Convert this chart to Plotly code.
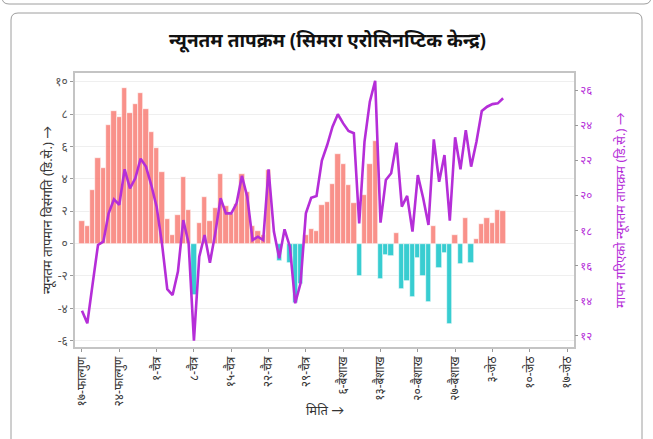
import plotly.graph_objects as go

# ---- data ----
day = list(range(80))  # days after 17-Falgun
anomaly = [1.40, 1.11, 3.29, 5.31, 4.69, 7.30, 8.21, 7.80, 9.61, 8.09,
           8.60, 9.32, 8.29, 6.91, 5.91, 4.40, 1.50, 0.51, 1.79, 4.12,
           2.10, -3.19, 1.30, 2.90, 1.40, 2.22, 4.30, 2.30, 1.85, 2.47,
           4.30, 3.19, 1.11, 0.80, 0.53, 4.57, 0.00, -1.07, 0.00, -1.19,
           -3.70, -2.47, 0.51, 0.90, 0.80, 2.41, 2.59, 3.70, 5.51, 4.90,
           3.60, 2.51, -2.00, 3.00, 4.90, 6.32, -2.20, -0.68, -0.78, 0.68,
           -2.78, -2.30, -3.29, -0.90, -2.00, -3.58, 1.11, -1.48, -0.58, -4.98,
           0.51, -1.28, 1.60, -1.17, 0.29, 1.19, 1.60, 1.30, 2.10, 2.00]
tmin = [13.44, 12.72, 14.96, 17.18, 17.37, 18.98, 19.78, 19.47, 21.49, 20.40,
        20.97, 22.09, 21.64, 20.59, 19.36, 17.28, 14.66, 14.33, 15.66, 18.60,
        17.28, 11.73, 16.51, 17.75, 16.17, 17.84, 19.84, 18.98, 18.98, 19.55,
        21.11, 19.93, 17.46, 17.65, 17.46, 21.49, 17.94, 16.42, 18.07, 17.08,
        13.86, 15.00, 18.98, 19.87, 19.97, 21.98, 22.87, 23.91, 24.62, 24.10,
        23.67, 23.54, 18.41, 23.06, 25.34, 26.53, 18.45, 20.88, 21.26, 23.00,
        19.36, 19.97, 17.94, 21.16, 19.85, 18.32, 23.19, 20.78, 22.30, 18.56,
        23.31, 21.49, 23.72, 21.64, 23.06, 24.81, 25.05, 25.20, 25.24, 25.53]

x_tick_vals = [0, 7, 14, 21, 28, 35, 42, 49, 56, 63, 70, 77, 84, 91]
x_tick_text = ["१७-फाल्गुण", "२४-फाल्गुण", "१-चैत्र", "८-चैत्र", "१५-चैत्र", "२२-चैत्र",
               "२९-चैत्र", "६-बैशाख", "१३-बैशाख", "२०-बैशाख", "२७-बैशाख", "३-जेठ",
               "१०-जेठ", "१७-जेठ"]
y_tick_vals = [-6, -4, -2, 0, 2, 4, 6, 8, 10]
y_tick_text = ["-६", "-४", "-२", "०", "२", "४", "६", "८", "१०"]
y2_tick_vals = [12, 14, 16, 18, 20, 22, 24, 26]
y2_tick_text = ["१२", "१४", "१६", "१८", "२०", "२२", "२४", "२६"]

title_text = "न्यूनतम तापक्रम (सिमरा एरोसिनप्टिक केन्द्र)"
ylab = "न्यूनतम तापमान विसंगति (डि.से.) →"
y2lab = "मापन गरिएको न्यूनतम तापक्रम (डि.से.) →"
xlab = "मिति →"

# ---- layout geometry ----
W, H = 653, 439
L, R, T, B = 75, 574, 73, 347
PURPLE = "#B52ED8"
FONT = "Noto Sans, Lato, sans-serif"

def px(x):
    return (x - L) / (R - L)

def py(y):
    return (B - y) / (B - T)

bar_colors = ["rgba(248,118,109,0.8)" if v >= 0 else "rgba(0,191,196,0.78)" for v in anomaly]

fig = go.Figure()
fig.add_trace(go.Bar(x=day, y=anomaly, marker=dict(color=bar_colors,
                     line=dict(color="white", width=0.6)),
                     width=1.0, hoverinfo="skip", showlegend=False))
fig.add_trace(go.Scatter(x=day, y=tmin, yaxis="y2", mode="lines",
                         line=dict(color=PURPLE, width=2.6), showlegend=False))

def card_path(xl, xr, ytop, ybot, r, top=True):
    if top:
        return (f"M {px(xl)},{py(ybot)} L {px(xl)},{py(ytop + r)} "
                f"Q {px(xl)},{py(ytop)} {px(xl + r)},{py(ytop)} "
                f"L {px(xr - r)},{py(ytop)} Q {px(xr)},{py(ytop)} {px(xr)},{py(ytop + r)} "
                f"L {px(xr)},{py(ybot)}")
    else:
        return (f"M {px(xl)},{py(ytop)} L {px(xl)},{py(ybot - r)} "
                f"Q {px(xl)},{py(ybot)} {px(xl + r)},{py(ybot)} "
                f"L {px(xr - r)},{py(ybot)} Q {px(xr)},{py(ybot)} {px(xr)},{py(ybot - r)} "
                f"L {px(xr)},{py(ytop)}")

shapes = [
    dict(type="path", xref="paper", yref="paper",
         path=card_path(11, 642, 13, 460, 7, top=True),
         line=dict(color="#9E9E9E", width=1)),
    dict(type="path", xref="paper", yref="paper",
         path=card_path(2, 651, -20, 4, 7, top=False),
         line=dict(color="#9E9E9E", width=1)),
]

annotations = [
    dict(text="<b>" + title_text + "</b>", x=px(327), y=py(40), xref="paper", yref="paper",
         showarrow=False, font=dict(size=19, color="#111111", family=FONT),
         xanchor="center", yanchor="middle"),
    dict(text=ylab, x=px(47), y=py(210), xref="paper", yref="paper",
         showarrow=False, textangle=-90, font=dict(size=13, color="#333333", family=FONT),
         xanchor="center", yanchor="middle"),
    dict(text=y2lab, x=px(620), y=py(210), xref="paper", yref="paper",
         showarrow=False, textangle=-90, font=dict(size=13, color=PURPLE, family=FONT),
         xanchor="center", yanchor="middle"),
    dict(text=xlab, x=px(325), y=py(410), xref="paper", yref="paper",
         showarrow=False, font=dict(size=13, color="#333333", family=FONT),
         xanchor="center", yanchor="middle"),
]

fig.update_layout(
    width=W, height=H,
    margin=dict(l=L, r=W - R, t=T, b=H - B, pad=0),
    paper_bgcolor="white", plot_bgcolor="white",
    bargap=0, showlegend=False,
    font=dict(family=FONT),
    shapes=shapes, annotations=annotations,
    xaxis=dict(range=[-1.31, 92.3], tickmode="array", tickvals=x_tick_vals,
               ticktext=x_tick_text, tickangle=-90, showgrid=False, zeroline=False,
               ticks="outside", ticklen=3, tickcolor="#999999",
               tickfont=dict(size=12, color="#333333", family=FONT),
               showline=True, mirror=True, linecolor="#C4C4C4", linewidth=1.5),
    yaxis=dict(range=[-6.39, 10.54], tickmode="array", tickvals=y_tick_vals,
               ticktext=y_tick_text, showgrid=True, gridcolor="#EFEFEF", gridwidth=1,
               zeroline=False, ticks="outside", ticklen=3, tickcolor="#999999",
               tickfont=dict(size=12, color="#555555", family=FONT),
               showline=True, mirror=True, linecolor="#C4C4C4", linewidth=1.5),
    yaxis2=dict(range=[11.37, 26.97], overlaying="y", side="right", tickmode="array",
                tickvals=y2_tick_vals, ticktext=y2_tick_text, showgrid=False,
                zeroline=False, ticks="outside", ticklen=3, tickcolor="#999999",
                tickfont=dict(size=11.5, color=PURPLE, family=FONT), showline=False),
)

fig.write_html("out.html", config={"displayModeBar": False},
               post_script="document.body.style.margin='0';document.body.style.overflow='hidden';")
